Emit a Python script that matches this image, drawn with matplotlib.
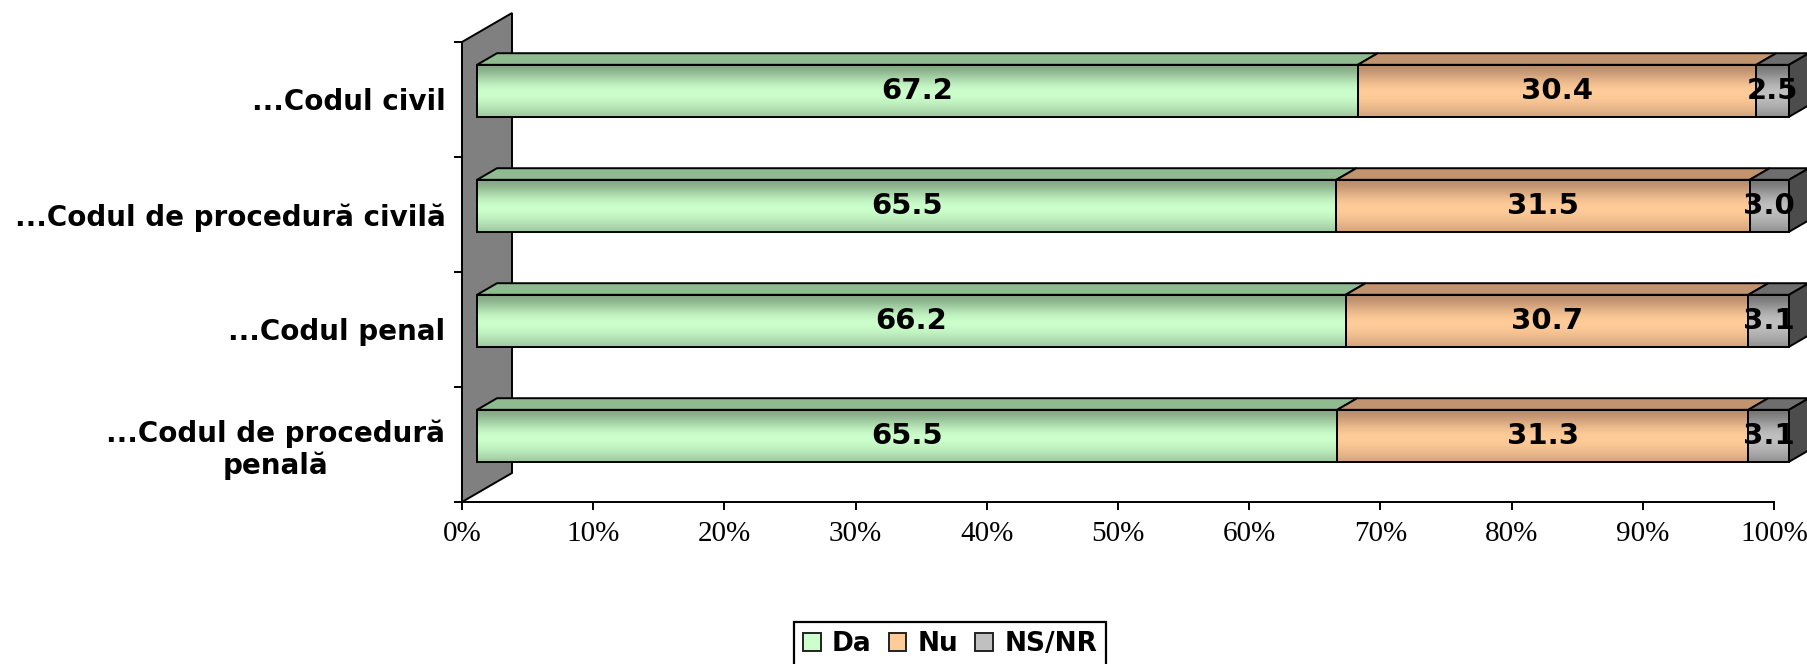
import numpy as np
import matplotlib
matplotlib.use("Agg")
import matplotlib.pyplot as plt
from matplotlib.patches import Polygon, Patch
from matplotlib.colors import to_rgb

# data, bottom to top as in the chart
categories = ["...Codul de procedură\npenală", "...Codul penal",
              "...Codul de procedură civilă", "...Codul civil"]
series_names = ["Da", "Nu", "NS/NR"]
da = [65.5, 66.2, 65.5, 67.2]
nu = [31.3, 30.7, 31.5, 30.4]
nsnr = [3.1, 3.1, 3.0, 2.5]
tick_labels = [f"{v}%" for v in range(0, 101, 10)]

light = ["#CCFFCC", "#FFCC99", "#C0C0C0"]
dark = ["#84A884", "#BA8C6C", "#767676"]
top_col = ["#90BA90", "#C2936F", "#6E6E6E"]
side_col = "#4C4C4C"

W, H = 1807, 664
fig = plt.figure(figsize=(W / 100, H / 100), dpi=100)
ax = fig.add_axes([462 / W, (H - 502) / H, 1312 / W, 460 / H])

# 3d depth offsets in data units
DX = 50 / 13.12
DY = 29 / 115
d_front, d_back = 0.3, 0.7
bar_h = 0.452

# back wall
wall = Polygon([(0, 0), (DX, DY), (DX, 4 + DY), (0, 4)], closed=True,
               facecolor="#808080", edgecolor="black", lw=1.4, clip_on=False, zorder=1)
ax.add_patch(wall)

vals = np.array([da, nu, nsnr])
vals = vals / vals.sum(axis=0) * 100
lefts = np.vstack([np.zeros(4), np.cumsum(vals, axis=0)[:-1]])

# vertical shading of the bar fronts (top row first)
t = np.linspace(0, 1, 120)
peak = 0.55
shade = np.where(t < peak, np.sin(np.pi / 2 * t / peak) ** 1.6,
                 1 - 0.65 * ((t - peak) / (1 - peak)) ** 1.5)

for s in range(3):
    c0, c1 = np.array(to_rgb(dark[s])), np.array(to_rgb(light[s]))
    grad = c0[None, :] + (c1 - c0)[None, :] * shade[:, None]
    grad = grad[:, None, :]
    for i in range(4):
        x0 = lefts[s, i]
        w = vals[s, i]
        yc = i + 0.5 + d_front * DY
        fx = d_front * DX
        bx, by = d_back * DX, (d_back - d_front) * DY
        ax.imshow(grad, extent=(x0 + fx, x0 + w + fx, yc - bar_h / 2, yc + bar_h / 2),
                  aspect="auto", zorder=3, clip_on=False, interpolation="bilinear")
        ax.barh(yc, w, left=x0 + fx, height=bar_h, facecolor="none",
                edgecolor="black", lw=1.4, zorder=4, clip_on=False)
        ytop = yc + bar_h / 2
        top = Polygon([(x0 + fx, ytop), (x0 + w + fx, ytop),
                       (x0 + w + bx, ytop + by), (x0 + bx, ytop + by)],
                      closed=True, facecolor=top_col[s], edgecolor="black",
                      lw=1.4, zorder=4, clip_on=False)
        ax.add_patch(top)
        if s == 2:
            xr = x0 + w
            ybot = yc - bar_h / 2
            side = Polygon([(xr + fx, ybot), (xr + bx, ybot + by),
                            (xr + bx, ytop + by), (xr + fx, ytop)],
                           closed=True, facecolor=side_col, edgecolor="black",
                           lw=1.4, zorder=4, clip_on=False)
            ax.add_patch(side)
        ax.text(x0 + w / 2 + fx, yc, f"{[da, nu, nsnr][s][i]:.1f}",
                ha="center", va="center", fontsize=21, fontweight="bold",
                family="DejaVu Sans", zorder=6, clip_on=False)

ax.set_xlim(0, 100)
ax.set_ylim(0, 4)
ax.set_xticks(range(0, 101, 10))
ax.set_xticklabels(tick_labels, family="Liberation Serif", fontsize=21)
ax.set_yticks([0.5, 1.5, 2.5, 3.5])
ax.set_yticklabels(categories, fontsize=20, fontweight="bold", family="DejaVu Sans",
                   multialignment="center")
ax.set_yticks([0, 1, 2, 3, 4], minor=True)
ax.tick_params(axis="y", which="major", length=0, pad=12)
ax.tick_params(axis="y", which="minor", length=6, width=1.4, direction="out")
ax.tick_params(axis="x", length=6, width=1.4, direction="out", pad=8)
for sp in ["top", "right"]:
    ax.spines[sp].set_visible(False)
ax.spines["left"].set_linewidth(1.4)
ax.spines["bottom"].set_linewidth(1.4)
ax.patch.set_visible(False)

handles = [Patch(facecolor=light[k], edgecolor="#222222", lw=1.4) for k in range(3)]
leg = fig.legend(handles, series_names, loc="upper center",
                 bbox_to_anchor=(950 / W, 1 - 622 / H), ncol=3, fancybox=False,
                 edgecolor="black", framealpha=1,
                 prop={"family": "DejaVu Sans", "weight": "bold", "size": 19},
                 handlelength=0.68, handleheight=0.68, handletextpad=0.42,
                 columnspacing=0.64, borderpad=0.35, borderaxespad=0)
leg.get_frame().set_linewidth(1.6)

fig.savefig("out.png", dpi=100)
